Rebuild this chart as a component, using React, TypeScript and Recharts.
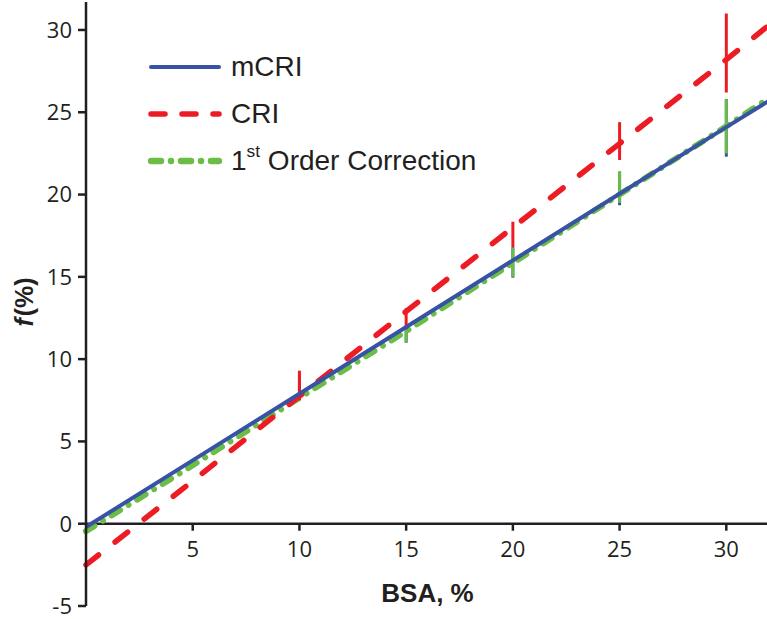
import React from "react";
import {
    LineChart,
    Line,
    XAxis,
    YAxis,
    ErrorBar,
    ReferenceLine,
    Legend,
} from "recharts";

// BSA (%) sample points
const BSA = [0, 5, 10, 15, 20, 25, 30, 32];

// f (%) for each method
const MCRI = [-0.2, 3.85, 7.9, 11.95, 16.0, 20.05, 24.1, 25.7];
const CRI = [-2.5, 2.6, 7.75, 12.9, 18.0, 23.1, 28.2, 30.3];
const FIRST_ORDER = [-0.45, 3.55, 7.65, 11.7, 15.85, 20.0, 24.15, 25.85];

// vertical spread bars (absolute low / high), null = no bar
const MCRI_LOW = [null, null, 7.5, 11.0, 14.95, 19.35, 22.3, null];
const MCRI_HIGH = [null, null, 9.0, 12.0, 16.8, 21.4, 25.8, null];
const CRI_LOW = [null, null, 7.5, 11.8, 16.8, 22.1, 26.2, null];
const CRI_HIGH = [null, null, 9.3, 13.1, 18.35, 24.4, 31.0, null];
const FIRST_LOW = [null, null, null, 11.0, 15.0, 19.5, 22.5, null];
const FIRST_HIGH = [null, null, null, 11.9, 16.75, 21.4, 25.8, null];

const X_TICKS = [5, 10, 15, 20, 25, 30];
const Y_TICKS = [-5, 0, 5, 10, 15, 20, 25, 30];

const BLUE = "#3953a4";
const RED = "#ed1c24";
const GREEN = "#6abd45";
const INK = "#231f20";

const toErr = (v: number, lo: number | null, hi: number | null) =>
    lo == null || hi == null ? undefined : [v - lo, hi - v];

const data = BSA.map((x, i) => ({
    x,
    mCRI: MCRI[i],
    CRI: CRI[i],
    first: FIRST_ORDER[i],
    mCRIErr: toErr(MCRI[i], MCRI_LOW[i], MCRI_HIGH[i]),
    CRIErr: toErr(CRI[i], CRI_LOW[i], CRI_HIGH[i]),
    firstErr: toErr(FIRST_ORDER[i], FIRST_LOW[i], FIRST_HIGH[i]),
}));

// layout
const W = 769;
const H = 619;
const TOP = 2;
const Y_AXIS_W = 86;
const X_AXIS_H = 13;
const Y_MIN = -5;
const Y_MAX = 31.7;
const PLOT_H = H - TOP - X_AXIS_H;
const ZERO_Y = TOP + (PLOT_H * Y_MAX) / (Y_MAX - Y_MIN);

const TICK_FONT = "'Open Sans', 'Noto Sans', sans-serif";
const TITLE_FONT = "'Liberation Sans', Arial, sans-serif";

const legendItems = [
    { key: "mCRI", color: BLUE, width: 4, dash: undefined, label: <>mCRI</> },
    { key: "CRI", color: RED, width: 5.5, dash: "14 17", label: <>CRI</> },
    {
        key: "first",
        color: GREEN,
        width: 6.5,
        dash: "10 10 0.01 10",
        label: (
            <>
                1<sup style={{ fontSize: "0.62em", lineHeight: 0, verticalAlign: "0.75em" }}>st</sup> Order Correction
            </>
        ),
    },
];

function LegendBox() {
    return (
        <div style={{ fontFamily: TITLE_FONT, fontSize: 28, color: INK }}>
            {legendItems.map((item) => (
                <div key={item.key} style={{ display: "flex", alignItems: "center", height: 47 }}>
                    <svg width={74} height={10}>
                        <line
                            x1={3}
                            x2={71}
                            y1={5}
                            y2={5}
                            stroke={item.color}
                            strokeWidth={item.width}
                            strokeDasharray={item.dash}
                            strokeLinecap="round"
                        />
                    </svg>
                    <span style={{ marginLeft: 9, whiteSpace: "nowrap" }}>{item.label}</span>
                </div>
            ))}
        </div>
    );
}

function XTick(props: any) {
    const { x, payload } = props;
    return (
        <g>
            <line x1={x} x2={x} y1={ZERO_Y} y2={ZERO_Y + 7} stroke={INK} strokeWidth={2.5} />
            <text
                x={x}
                y={ZERO_Y + 33}
                textAnchor="middle"
                fontSize={22}
                fontFamily={TICK_FONT}
                fill={INK}
            >
                {payload.value}
            </text>
        </g>
    );
}

function YTitle(props: any) {
    const vb = props.viewBox || { x: 0, y: TOP, width: Y_AXIS_W, height: PLOT_H };
    const cx = vb.x + 33;
    const cy = vb.y + vb.height / 2 - 2;
    return (
        <text
            x={cx}
            y={cy}
            transform={`rotate(-90 ${cx} ${cy})`}
            textAnchor="middle"
            fontSize={25}
            fontWeight="bold"
            fontFamily={TITLE_FONT}
            fill={INK}
        >
            <tspan fontStyle="italic">f</tspan>
            <tspan dx={2}>(%)</tspan>
        </text>
    );
}

export default function App() {
    return (
        <div
            style={{
                position: "absolute",
                left: 0,
                top: 0,
                width: 767,
                height: 619,
                overflow: "hidden",
                background: "#fff",
            }}
        >
            <LineChart width={W} height={H} data={data} margin={{ top: TOP, right: 0, bottom: 0, left: 0 }}>
                <XAxis
                    dataKey="x"
                    type="number"
                    domain={[0, 32]}
                    ticks={X_TICKS}
                    height={X_AXIS_H}
                    axisLine={false}
                    tickLine={false}
                    tick={<XTick />}
                    label={{
                        value: "BSA, %",
                        position: "insideBottom",
                        offset: 17,
                        fontSize: 26,
                        fontWeight: "bold",
                        fontFamily: TITLE_FONT,
                        fill: INK,
                    }}
                />
                <YAxis
                    type="number"
                    domain={[Y_MIN, Y_MAX]}
                    ticks={Y_TICKS}
                    width={Y_AXIS_W}
                    tickSize={8}
                    tickMargin={6}
                    axisLine={{ stroke: INK, strokeWidth: 2.5 }}
                    tickLine={{ stroke: INK, strokeWidth: 2.5 }}
                    tick={{ fontSize: 22, fill: INK, fontFamily: TICK_FONT }}
                    label={<YTitle />}
                />
                <ReferenceLine y={0} stroke={INK} strokeWidth={2.5} />
                <Legend
                    layout="vertical"
                    align="center"
                    verticalAlign="middle"
                    wrapperStyle={{ left: 148, top: 43, width: "auto", height: "auto" }}
                    content={<LegendBox />}
                />
                {/* mCRI spread bars sit underneath the green ones */}
                <Line
                    dataKey="mCRI"
                    stroke="none"
                    dot={false}
                    activeDot={false}
                    legendType="none"
                    isAnimationActive={false}
                >
                    <ErrorBar dataKey="mCRIErr" direction="y" width={0} stroke={BLUE} strokeWidth={3} isAnimationActive={false} />
                </Line>
                <Line
                    dataKey="first"
                    name="1st Order Correction"
                    stroke={GREEN}
                    strokeWidth={6}
                    strokeDasharray="10 10 0.01 10"
                    strokeLinecap="round"
                    dot={false}
                    activeDot={false}
                    isAnimationActive={false}
                >
                    <ErrorBar dataKey="firstErr" direction="y" width={0} stroke={GREEN} strokeWidth={3} isAnimationActive={false} />
                </Line>
                <Line
                    dataKey="CRI"
                    name="CRI"
                    stroke={RED}
                    strokeWidth={5.5}
                    strokeDasharray="16 21"
                    strokeLinecap="round"
                    dot={false}
                    activeDot={false}
                    isAnimationActive={false}
                >
                    <ErrorBar dataKey="CRIErr" direction="y" width={0} stroke={RED} strokeWidth={3} isAnimationActive={false} />
                </Line>
                <Line
                    dataKey="mCRI"
                    name="mCRI"
                    stroke={BLUE}
                    strokeWidth={4}
                    dot={false}
                    activeDot={false}
                    isAnimationActive={false}
                />
            </LineChart>
        </div>
    );
}
